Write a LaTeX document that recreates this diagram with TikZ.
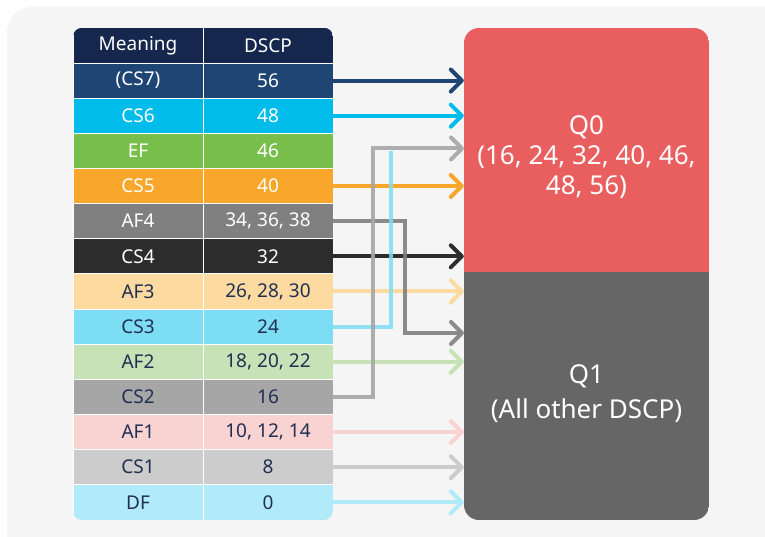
\documentclass[tikz,border=0pt]{standalone}
\usepackage{fontspec}
\setmainfont{Noto Sans}
\usetikzlibrary{arrows.meta}

\definecolor{bg}{RGB}{245,245,245}
\definecolor{head}{RGB}{21,39,77}
\definecolor{ink}{RGB}{33,47,82}
\definecolor{cs7}{RGB}{30,69,115}
\definecolor{cs6}{RGB}{0,188,235}
\definecolor{ef}{RGB}{120,190,75}
\definecolor{cs5}{RGB}{249,167,43}
\definecolor{af4}{RGB}{128,128,128}
\definecolor{cs4}{RGB}{45,45,45}
\definecolor{af3}{RGB}{253,218,160}
\definecolor{cs3}{RGB}{125,221,245}
\definecolor{af2}{RGB}{198,226,182}
\definecolor{cs2}{RGB}{166,166,166}
\definecolor{af1}{RGB}{249,210,210}
\definecolor{cs1}{RGB}{204,204,204}
\definecolor{df}{RGB}{177,234,249}
\definecolor{qzero}{RGB}{233,94,94}
\definecolor{qone}{RGB}{102,102,102}

\begin{document}
\begin{tikzpicture}[x=1pt, y=-1pt,
    cell/.style={minimum width=130pt, minimum height=35.15pt, inner sep=0pt,
      draw=white, line width=0.8pt, font=\fontsize{19}{21}\selectfont},
    queue/.style={minimum width=245pt, inner sep=0pt},
    qtext/.style={text=white, align=center},
    link/.style={line width=4pt, -{Straight Barb[length=11pt, width=22pt, round]}},
  ]
  \useasboundingbox (0,0) rectangle (765,537);
  \fill[white] (0,0) rectangle (765,537);
  \fill[bg, rounded corners=25pt] (7,7) rectangle (790,562);

  \begin{scope}
    \clip[rounded corners=9pt] (73,27.8) rectangle (333,520);
    \node[cell, fill=head, text=white] (m0) at (138,45.4) {Meaning};
    \node[cell, fill=head, text=white] (d0) at (268,45.4) {DSCP};
    \foreach \m/\d/\c/\t [count=\i] in {
        (CS7)/56/cs7/white, CS6/48/cs6/white, EF/46/ef/white, CS5/40/cs5/white,
        AF4/{34, 36, 38}/af4/white, CS4/32/cs4/white, AF3/{26, 28, 30}/af3/ink,
        CS3/24/cs3/ink, AF2/{18, 20, 22}/af2/ink, CS2/16/cs2/ink,
        AF1/{10, 12, 14}/af1/ink, CS1/8/cs1/ink, DF/0/df/ink} {
      \node[cell, fill=\c, text=\t] (m\i) at (138,45.4+35.15*\i) {\m};
      \node[cell, fill=\c, text=\t] (d\i) at (268,45.4+35.15*\i) {\d};
    }
  \end{scope}

  \begin{scope}
    \clip[rounded corners=15pt] (464,28) rectangle (709,520);
    \node[queue, fill=qzero, minimum height=244pt] (q0) at (586.5,150) {};
    \node[queue, fill=qone, minimum height=248pt] (q1) at (586.5,396) {};
  \end{scope}
  \node[qtext, font=\fontsize{26}{30}\selectfont] (t0) at (586.5,156.7)
    {Q0\\(16, 24, 32, 40, 46,\\48, 56)};
  \node[qtext, font=\fontsize{26}{35}\selectfont] (t1) at (586.5,394)
    {Q1\\(All other DSCP)};

  \coordinate (e5) at (464,333);
  \coordinate (e8) at (391,151);
  \coordinate (e10) at (464,148.5);

  \foreach \i/\c in {1/cs7, 2/cs6, 4/cs5, 6/cs4, 7/af3, 9/af2, 11/af1, 12/cs1, 13/df}
    \draw[link, color=\c] (d\i.east) -- (d\i -| q0.west);
  \draw[link, color=af4, opacity=.9] (d5.east) -- ++(72,0) |- (e5);
  \draw[line width=4pt, color=cs3, opacity=.85] (d8.east) -| (e8);
  \draw[link, color=cs2, opacity=.9] (d10.east) -- ++(40,0) |- (e10);
\end{tikzpicture}
\end{document}
